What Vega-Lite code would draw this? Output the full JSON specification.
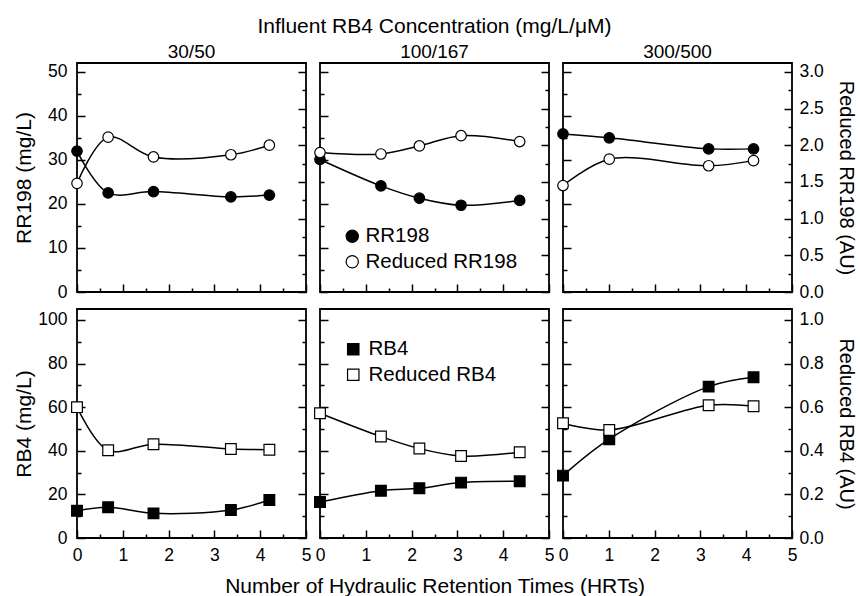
{
  "$schema": "https://vega.github.io/schema/vega-lite/v6.json",
  "padding": {"left": 12, "top": 15, "right": 0, "bottom": 0},
  "title": {"text": "Influent RB4 Concentration (mg/L/μM)", "fontSize": 21, "anchor": "middle", "offset": 5},
  "config": {
    "font": "Liberation Sans",
    "view": {"stroke": "black", "strokeWidth": 1.8},
    "axis": {"zindex": 1, "labelFont": "Liberation Sans", "labelFontSize": 17.5, "labelColor": "black", "titleFont": "Liberation Sans", "titleFontSize": 21, "titleFontWeight": "normal", "titleColor": "black", "tickColor": "black", "tickWidth": 1.5, "tickSize": -8, "domain": false, "grid": false, "labelFlush": false, "labelOverlap": false, "labelPadding": 18},
    "axisX": {"labelPadding": 16.5},
    "title": {"font": "Liberation Sans", "fontSize": 19, "fontWeight": "normal", "color": "black"}
  },
  "datasets": {
    "rr": [
      {"conc": "30/50", "series": "RR198", "hrt": 0, "value": 32.0},
      {"conc": "30/50", "series": "RR198", "hrt": 0.68, "value": 22.5},
      {"conc": "30/50", "series": "RR198", "hrt": 1.67, "value": 22.8},
      {"conc": "30/50", "series": "RR198", "hrt": 3.36, "value": 21.6},
      {"conc": "30/50", "series": "RR198", "hrt": 4.2, "value": 22.0},
      {"conc": "30/50", "series": "Reduced RR198", "hrt": 0, "value": 1.48},
      {"conc": "30/50", "series": "Reduced RR198", "hrt": 0.68, "value": 2.11},
      {"conc": "30/50", "series": "Reduced RR198", "hrt": 1.67, "value": 1.84},
      {"conc": "30/50", "series": "Reduced RR198", "hrt": 3.36, "value": 1.87},
      {"conc": "30/50", "series": "Reduced RR198", "hrt": 4.2, "value": 2.0},
      {"conc": "100/167", "series": "RR198", "hrt": 0, "value": 30.1},
      {"conc": "100/167", "series": "RR198", "hrt": 1.33, "value": 24.1},
      {"conc": "100/167", "series": "RR198", "hrt": 2.17, "value": 21.3},
      {"conc": "100/167", "series": "RR198", "hrt": 3.08, "value": 19.7},
      {"conc": "100/167", "series": "RR198", "hrt": 4.36, "value": 20.8},
      {"conc": "100/167", "series": "Reduced RR198", "hrt": 0, "value": 1.9},
      {"conc": "100/167", "series": "Reduced RR198", "hrt": 1.33, "value": 1.88},
      {"conc": "100/167", "series": "Reduced RR198", "hrt": 2.17, "value": 1.99},
      {"conc": "100/167", "series": "Reduced RR198", "hrt": 3.08, "value": 2.13},
      {"conc": "100/167", "series": "Reduced RR198", "hrt": 4.36, "value": 2.05},
      {"conc": "300/500", "series": "RR198", "hrt": 0, "value": 35.9},
      {"conc": "300/500", "series": "RR198", "hrt": 1.01, "value": 35.0},
      {"conc": "300/500", "series": "RR198", "hrt": 3.18, "value": 32.5},
      {"conc": "300/500", "series": "RR198", "hrt": 4.16, "value": 32.5},
      {"conc": "300/500", "series": "Reduced RR198", "hrt": 0, "value": 1.45},
      {"conc": "300/500", "series": "Reduced RR198", "hrt": 1.01, "value": 1.81},
      {"conc": "300/500", "series": "Reduced RR198", "hrt": 3.18, "value": 1.72},
      {"conc": "300/500", "series": "Reduced RR198", "hrt": 4.16, "value": 1.79}
    ],
    "rb": [
      {"conc": "30/50", "series": "RB4", "hrt": 0, "value": 12.5},
      {"conc": "30/50", "series": "RB4", "hrt": 0.68, "value": 14.1},
      {"conc": "30/50", "series": "RB4", "hrt": 1.67, "value": 11.3},
      {"conc": "30/50", "series": "RB4", "hrt": 3.36, "value": 12.8},
      {"conc": "30/50", "series": "RB4", "hrt": 4.2, "value": 17.4},
      {"conc": "30/50", "series": "Reduced RB4", "hrt": 0, "value": 0.6},
      {"conc": "30/50", "series": "Reduced RB4", "hrt": 0.68, "value": 0.402},
      {"conc": "30/50", "series": "Reduced RB4", "hrt": 1.67, "value": 0.43},
      {"conc": "30/50", "series": "Reduced RB4", "hrt": 3.36, "value": 0.408},
      {"conc": "30/50", "series": "Reduced RB4", "hrt": 4.2, "value": 0.405},
      {"conc": "100/167", "series": "RB4", "hrt": 0, "value": 16.5},
      {"conc": "100/167", "series": "RB4", "hrt": 1.33, "value": 21.7},
      {"conc": "100/167", "series": "RB4", "hrt": 2.17, "value": 22.8},
      {"conc": "100/167", "series": "RB4", "hrt": 3.08, "value": 25.4},
      {"conc": "100/167", "series": "RB4", "hrt": 4.36, "value": 26.0},
      {"conc": "100/167", "series": "Reduced RB4", "hrt": 0, "value": 0.572},
      {"conc": "100/167", "series": "Reduced RB4", "hrt": 1.33, "value": 0.465},
      {"conc": "100/167", "series": "Reduced RB4", "hrt": 2.17, "value": 0.41},
      {"conc": "100/167", "series": "Reduced RB4", "hrt": 3.08, "value": 0.376},
      {"conc": "100/167", "series": "Reduced RB4", "hrt": 4.36, "value": 0.393},
      {"conc": "300/500", "series": "RB4", "hrt": 0, "value": 28.6},
      {"conc": "300/500", "series": "RB4", "hrt": 1.01, "value": 45.3},
      {"conc": "300/500", "series": "RB4", "hrt": 3.18, "value": 69.4},
      {"conc": "300/500", "series": "RB4", "hrt": 4.16, "value": 73.7},
      {"conc": "300/500", "series": "Reduced RB4", "hrt": 0, "value": 0.526},
      {"conc": "300/500", "series": "Reduced RB4", "hrt": 1.01, "value": 0.495},
      {"conc": "300/500", "series": "Reduced RB4", "hrt": 3.18, "value": 0.609},
      {"conc": "300/500", "series": "Reduced RB4", "hrt": 4.16, "value": 0.604}
    ]
  },
  "spacing": 6,
  "resolve": {"scale": {"fill": "independent"}, "legend": {"fill": "independent"}},
  "vconcat": [
    {
      "spacing": 14,
      "bounds": "flush",
      "resolve": {"scale": {"fill": "independent"}, "legend": {"fill": "independent"}},
      "hconcat": [
        {
          "title": {"text": "30/50", "offset": 1}, "width": 229, "height": 229,
          "data": {"name": "rr"},
          "transform": [{"filter": {"field": "conc", "equal": "30/50"}}],
          "encoding": {"x": {"field": "hrt", "type": "quantitative", "scale": {"domain": [0, 5], "nice": false}, "axis": {"values": [0, 0.5, 1, 1.5, 2, 2.5, 3, 3.5, 4, 4.5, 5], "labels": false, "title": null, "tickDash": {"condition": {"test": "datum.value % 1 === 0", "value": [20, 1]}, "value": [4, 20]}}}},
          "layer": [
            {
              "transform": [{"filter": {"field": "series", "equal": "RR198"}}],
              "encoding": {"y": {"field": "value", "type": "quantitative", "scale": {"domain": [0, 52], "nice": false}, "axis": {"orient": "left", "values": [0, 5, 10, 15, 20, 25, 30, 35, 40, 45, 50], "labelExpr": "datum.value % 10 === 0 ? datum.label : ''", "title": "RR198 (mg/L)", "titlePadding": 13, "tickDash": {"condition": {"test": "datum.value % 10 === 0", "value": [20, 1]}, "value": [4, 20]}}}},
              "layer": [
                {"mark": {"type": "line", "interpolate": "catmull-rom", "color": "black", "strokeWidth": 1.5}},
                {"mark": {"type": "point", "shape": "circle", "filled": true, "size": 110, "stroke": "black", "strokeWidth": 1.2, "opacity": 1},
                 "encoding": {"fill": {"field": "series", "type": "nominal", "scale": {"domain": ["RR198", "Reduced RR198"], "range": ["black", "white"]}, "legend": null}}}
              ]
            },
            {
              "transform": [{"filter": {"field": "series", "equal": "Reduced RR198"}}],
              "encoding": {"y": {"field": "value", "type": "quantitative", "scale": {"domain": [0, 3.12], "nice": false}, "axis": {"orient": "right", "values": [0, 0.25, 0.5, 0.75, 1, 1.25, 1.5, 1.75, 2, 2.25, 2.5, 2.75, 3], "labels": false, "title": null, "tickDash": {"condition": {"test": "abs(datum.value*2 - round(datum.value*2)) < 0.001", "value": [20, 1]}, "value": [4, 20]}}}},
              "layer": [
                {"mark": {"type": "line", "interpolate": "catmull-rom", "color": "black", "strokeWidth": 1.5}},
                {"mark": {"type": "point", "shape": "circle", "filled": true, "size": 110, "stroke": "black", "strokeWidth": 1.2, "opacity": 1},
                 "encoding": {"fill": {"field": "series", "type": "nominal", "scale": {"domain": ["RR198", "Reduced RR198"], "range": ["black", "white"]}, "legend": null}}}
              ]
            }
          ],
          "resolve": {"scale": {"y": "independent"}}
        },
        {
          "title": {"text": "100/167", "offset": 1}, "width": 229, "height": 229,
          "data": {"name": "rr"},
          "transform": [{"filter": {"field": "conc", "equal": "100/167"}}],
          "encoding": {"x": {"field": "hrt", "type": "quantitative", "scale": {"domain": [0, 5], "nice": false}, "axis": {"values": [0, 0.5, 1, 1.5, 2, 2.5, 3, 3.5, 4, 4.5, 5], "labels": false, "title": null, "tickDash": {"condition": {"test": "datum.value % 1 === 0", "value": [20, 1]}, "value": [4, 20]}}}},
          "layer": [
            {
              "transform": [{"filter": {"field": "series", "equal": "RR198"}}],
              "encoding": {"y": {"field": "value", "type": "quantitative", "scale": {"domain": [0, 52], "nice": false}, "axis": {"orient": "left", "values": [0, 5, 10, 15, 20, 25, 30, 35, 40, 45, 50], "labels": false, "title": null, "tickDash": {"condition": {"test": "datum.value % 10 === 0", "value": [20, 1]}, "value": [4, 20]}}}},
              "layer": [
                {"mark": {"type": "line", "interpolate": "catmull-rom", "color": "black", "strokeWidth": 1.5}},
                {"mark": {"type": "point", "shape": "circle", "filled": true, "size": 110, "stroke": "black", "strokeWidth": 1.2, "opacity": 1},
                 "encoding": {"fill": {"field": "series", "type": "nominal", "scale": {"domain": ["RR198", "Reduced RR198"], "range": ["black", "white"]}, "legend": {"orient": "none", "legendX": 22, "legendY": 163, "title": null, "padding": 0, "labelFont": "Liberation Sans", "labelFontSize": 20.5, "labelColor": "black", "symbolType": "circle", "symbolSize": 150, "symbolStrokeColor": "black", "symbolStrokeWidth": 1.2, "rowPadding": 4.5, "labelOffset": 3}}}}
              ]
            },
            {
              "transform": [{"filter": {"field": "series", "equal": "Reduced RR198"}}],
              "encoding": {"y": {"field": "value", "type": "quantitative", "scale": {"domain": [0, 3.12], "nice": false}, "axis": {"orient": "right", "values": [0, 0.25, 0.5, 0.75, 1, 1.25, 1.5, 1.75, 2, 2.25, 2.5, 2.75, 3], "labels": false, "title": null, "tickDash": {"condition": {"test": "abs(datum.value*2 - round(datum.value*2)) < 0.001", "value": [20, 1]}, "value": [4, 20]}}}},
              "layer": [
                {"mark": {"type": "line", "interpolate": "catmull-rom", "color": "black", "strokeWidth": 1.5}},
                {"mark": {"type": "point", "shape": "circle", "filled": true, "size": 110, "stroke": "black", "strokeWidth": 1.2, "opacity": 1},
                 "encoding": {"fill": {"field": "series", "type": "nominal", "scale": {"domain": ["RR198", "Reduced RR198"], "range": ["black", "white"]}, "legend": {"orient": "none", "legendX": 22, "legendY": 163, "title": null, "padding": 0, "labelFont": "Liberation Sans", "labelFontSize": 20.5, "labelColor": "black", "symbolType": "circle", "symbolSize": 150, "symbolStrokeColor": "black", "symbolStrokeWidth": 1.2, "rowPadding": 4.5, "labelOffset": 3}}}}
              ]
            }
          ],
          "resolve": {"scale": {"y": "independent"}}
        },
        {
          "title": {"text": "300/500", "offset": 1}, "width": 229, "height": 229,
          "data": {"name": "rr"},
          "transform": [{"filter": {"field": "conc", "equal": "300/500"}}],
          "encoding": {"x": {"field": "hrt", "type": "quantitative", "scale": {"domain": [0, 5], "nice": false}, "axis": {"values": [0, 0.5, 1, 1.5, 2, 2.5, 3, 3.5, 4, 4.5, 5], "labels": false, "title": null, "tickDash": {"condition": {"test": "datum.value % 1 === 0", "value": [20, 1]}, "value": [4, 20]}}}},
          "layer": [
            {
              "transform": [{"filter": {"field": "series", "equal": "RR198"}}],
              "encoding": {"y": {"field": "value", "type": "quantitative", "scale": {"domain": [0, 52], "nice": false}, "axis": {"orient": "left", "values": [0, 5, 10, 15, 20, 25, 30, 35, 40, 45, 50], "labels": false, "title": null, "tickDash": {"condition": {"test": "datum.value % 10 === 0", "value": [20, 1]}, "value": [4, 20]}}}},
              "layer": [
                {"mark": {"type": "line", "interpolate": "catmull-rom", "color": "black", "strokeWidth": 1.5}},
                {"mark": {"type": "point", "shape": "circle", "filled": true, "size": 110, "stroke": "black", "strokeWidth": 1.2, "opacity": 1},
                 "encoding": {"fill": {"field": "series", "type": "nominal", "scale": {"domain": ["RR198", "Reduced RR198"], "range": ["black", "white"]}, "legend": null}}}
              ]
            },
            {
              "transform": [{"filter": {"field": "series", "equal": "Reduced RR198"}}],
              "encoding": {"y": {"field": "value", "type": "quantitative", "scale": {"domain": [0, 3.12], "nice": false}, "axis": {"orient": "right", "values": [0, 0.25, 0.5, 0.75, 1, 1.25, 1.5, 1.75, 2, 2.25, 2.5, 2.75, 3], "labelExpr": "abs(datum.value*2 - round(datum.value*2)) < 0.001 ? format(datum.value, '.1f') : ''", "labelPadding": 15, "title": "Reduced RR198 (AU)", "titleFontSize": 20, "titlePadding": 12, "tickDash": {"condition": {"test": "abs(datum.value*2 - round(datum.value*2)) < 0.001", "value": [20, 1]}, "value": [4, 20]}}}},
              "layer": [
                {"mark": {"type": "line", "interpolate": "catmull-rom", "color": "black", "strokeWidth": 1.5}},
                {"mark": {"type": "point", "shape": "circle", "filled": true, "size": 110, "stroke": "black", "strokeWidth": 1.2, "opacity": 1},
                 "encoding": {"fill": {"field": "series", "type": "nominal", "scale": {"domain": ["RR198", "Reduced RR198"], "range": ["black", "white"]}, "legend": null}}}
              ]
            }
          ],
          "resolve": {"scale": {"y": "independent"}}
        }
      ]
    },
    {
      "spacing": 14,
      "bounds": "flush",
      "resolve": {"scale": {"fill": "independent"}, "legend": {"fill": "independent"}},
      "hconcat": [
        {
          "width": 229, "height": 229,
          "data": {"name": "rb"},
          "transform": [{"filter": {"field": "conc", "equal": "30/50"}}],
          "encoding": {"x": {"field": "hrt", "type": "quantitative", "scale": {"domain": [0, 5], "nice": false}, "axis": {"values": [0, 0.5, 1, 1.5, 2, 2.5, 3, 3.5, 4, 4.5, 5], "labelExpr": "datum.value % 1 === 0 ? format(datum.value, 'd') : ''", "title": null, "tickDash": {"condition": {"test": "datum.value % 1 === 0", "value": [20, 1]}, "value": [4, 20]}}}},
          "layer": [
            {
              "transform": [{"filter": {"field": "series", "equal": "RB4"}}],
              "encoding": {"y": {"field": "value", "type": "quantitative", "scale": {"domain": [0, 105], "nice": false}, "axis": {"orient": "left", "values": [0, 10, 20, 30, 40, 50, 60, 70, 80, 90, 100], "labelExpr": "datum.value % 20 === 0 ? datum.label : ''", "title": "RB4 (mg/L)", "titlePadding": 3, "tickDash": {"condition": {"test": "datum.value % 20 === 0", "value": [20, 1]}, "value": [4, 20]}}}},
              "layer": [
                {"mark": {"type": "line", "interpolate": "catmull-rom", "color": "black", "strokeWidth": 1.5}},
                {"mark": {"type": "point", "shape": "square", "filled": true, "size": 115, "stroke": "black", "strokeWidth": 1.2, "opacity": 1},
                 "encoding": {"fill": {"field": "series", "type": "nominal", "scale": {"domain": ["RB4", "Reduced RB4"], "range": ["black", "white"]}, "legend": null}}}
              ]
            },
            {
              "transform": [{"filter": {"field": "series", "equal": "Reduced RB4"}}],
              "encoding": {"y": {"field": "value", "type": "quantitative", "scale": {"domain": [0, 1.05], "nice": false}, "axis": {"orient": "right", "values": [0, 0.1, 0.2, 0.3, 0.4, 0.5, 0.6, 0.7, 0.8, 0.9, 1], "labels": false, "title": null, "tickDash": {"condition": {"test": "abs(datum.value*5 - round(datum.value*5)) < 0.001", "value": [20, 1]}, "value": [4, 20]}}}},
              "layer": [
                {"mark": {"type": "line", "interpolate": "catmull-rom", "color": "black", "strokeWidth": 1.5}},
                {"mark": {"type": "point", "shape": "square", "filled": true, "size": 115, "stroke": "black", "strokeWidth": 1.2, "opacity": 1},
                 "encoding": {"fill": {"field": "series", "type": "nominal", "scale": {"domain": ["RB4", "Reduced RB4"], "range": ["black", "white"]}, "legend": null}}}
              ]
            }
          ],
          "resolve": {"scale": {"y": "independent"}}
        },
        {
          "width": 229, "height": 229,
          "data": {"name": "rb"},
          "transform": [{"filter": {"field": "conc", "equal": "100/167"}}],
          "encoding": {"x": {"field": "hrt", "type": "quantitative", "scale": {"domain": [0, 5], "nice": false}, "axis": {"values": [0, 0.5, 1, 1.5, 2, 2.5, 3, 3.5, 4, 4.5, 5], "labelExpr": "datum.value % 1 === 0 ? format(datum.value, 'd') : ''", "title": "Number of Hydraulic Retention Times (HRTs)", "titlePadding": 11, "tickDash": {"condition": {"test": "datum.value % 1 === 0", "value": [20, 1]}, "value": [4, 20]}}}},
          "layer": [
            {
              "transform": [{"filter": {"field": "series", "equal": "RB4"}}],
              "encoding": {"y": {"field": "value", "type": "quantitative", "scale": {"domain": [0, 105], "nice": false}, "axis": {"orient": "left", "values": [0, 10, 20, 30, 40, 50, 60, 70, 80, 90, 100], "labels": false, "title": null, "tickDash": {"condition": {"test": "datum.value % 20 === 0", "value": [20, 1]}, "value": [4, 20]}}}},
              "layer": [
                {"mark": {"type": "line", "interpolate": "catmull-rom", "color": "black", "strokeWidth": 1.5}},
                {"mark": {"type": "point", "shape": "square", "filled": true, "size": 115, "stroke": "black", "strokeWidth": 1.2, "opacity": 1},
                 "encoding": {"fill": {"field": "series", "type": "nominal", "scale": {"domain": ["RB4", "Reduced RB4"], "range": ["black", "white"]}, "legend": {"orient": "none", "legendX": 23, "legendY": 30, "title": null, "padding": 0, "labelFont": "Liberation Sans", "labelFontSize": 20.5, "labelColor": "black", "symbolType": "square", "symbolSize": 130, "symbolStrokeColor": "black", "symbolStrokeWidth": 1.2, "rowPadding": 4.5, "labelOffset": 5}}}}
              ]
            },
            {
              "transform": [{"filter": {"field": "series", "equal": "Reduced RB4"}}],
              "encoding": {"y": {"field": "value", "type": "quantitative", "scale": {"domain": [0, 1.05], "nice": false}, "axis": {"orient": "right", "values": [0, 0.1, 0.2, 0.3, 0.4, 0.5, 0.6, 0.7, 0.8, 0.9, 1], "labels": false, "title": null, "tickDash": {"condition": {"test": "abs(datum.value*5 - round(datum.value*5)) < 0.001", "value": [20, 1]}, "value": [4, 20]}}}},
              "layer": [
                {"mark": {"type": "line", "interpolate": "catmull-rom", "color": "black", "strokeWidth": 1.5}},
                {"mark": {"type": "point", "shape": "square", "filled": true, "size": 115, "stroke": "black", "strokeWidth": 1.2, "opacity": 1},
                 "encoding": {"fill": {"field": "series", "type": "nominal", "scale": {"domain": ["RB4", "Reduced RB4"], "range": ["black", "white"]}, "legend": {"orient": "none", "legendX": 23, "legendY": 30, "title": null, "padding": 0, "labelFont": "Liberation Sans", "labelFontSize": 20.5, "labelColor": "black", "symbolType": "square", "symbolSize": 130, "symbolStrokeColor": "black", "symbolStrokeWidth": 1.2, "rowPadding": 4.5, "labelOffset": 5}}}}
              ]
            }
          ],
          "resolve": {"scale": {"y": "independent"}}
        },
        {
          "width": 229, "height": 229,
          "data": {"name": "rb"},
          "transform": [{"filter": {"field": "conc", "equal": "300/500"}}],
          "encoding": {"x": {"field": "hrt", "type": "quantitative", "scale": {"domain": [0, 5], "nice": false}, "axis": {"values": [0, 0.5, 1, 1.5, 2, 2.5, 3, 3.5, 4, 4.5, 5], "labelExpr": "datum.value % 1 === 0 ? format(datum.value, 'd') : ''", "title": null, "tickDash": {"condition": {"test": "datum.value % 1 === 0", "value": [20, 1]}, "value": [4, 20]}}}},
          "layer": [
            {
              "transform": [{"filter": {"field": "series", "equal": "RB4"}}],
              "encoding": {"y": {"field": "value", "type": "quantitative", "scale": {"domain": [0, 105], "nice": false}, "axis": {"orient": "left", "values": [0, 10, 20, 30, 40, 50, 60, 70, 80, 90, 100], "labels": false, "title": null, "tickDash": {"condition": {"test": "datum.value % 20 === 0", "value": [20, 1]}, "value": [4, 20]}}}},
              "layer": [
                {"mark": {"type": "line", "interpolate": "catmull-rom", "color": "black", "strokeWidth": 1.5}},
                {"mark": {"type": "point", "shape": "square", "filled": true, "size": 115, "stroke": "black", "strokeWidth": 1.2, "opacity": 1},
                 "encoding": {"fill": {"field": "series", "type": "nominal", "scale": {"domain": ["RB4", "Reduced RB4"], "range": ["black", "white"]}, "legend": null}}}
              ]
            },
            {
              "transform": [{"filter": {"field": "series", "equal": "Reduced RB4"}}],
              "encoding": {"y": {"field": "value", "type": "quantitative", "scale": {"domain": [0, 1.05], "nice": false}, "axis": {"orient": "right", "values": [0, 0.1, 0.2, 0.3, 0.4, 0.5, 0.6, 0.7, 0.8, 0.9, 1], "labelExpr": "abs(datum.value*5 - round(datum.value*5)) < 0.001 ? format(datum.value, '.1f') : ''", "labelPadding": 15, "title": "Reduced RB4 (AU)", "titleFontSize": 20, "titlePadding": 12, "tickDash": {"condition": {"test": "abs(datum.value*5 - round(datum.value*5)) < 0.001", "value": [20, 1]}, "value": [4, 20]}}}},
              "layer": [
                {"mark": {"type": "line", "interpolate": "catmull-rom", "color": "black", "strokeWidth": 1.5}},
                {"mark": {"type": "point", "shape": "square", "filled": true, "size": 115, "stroke": "black", "strokeWidth": 1.2, "opacity": 1},
                 "encoding": {"fill": {"field": "series", "type": "nominal", "scale": {"domain": ["RB4", "Reduced RB4"], "range": ["black", "white"]}, "legend": null}}}
              ]
            }
          ],
          "resolve": {"scale": {"y": "independent"}}
        }
      ]
    }
  ]
}
